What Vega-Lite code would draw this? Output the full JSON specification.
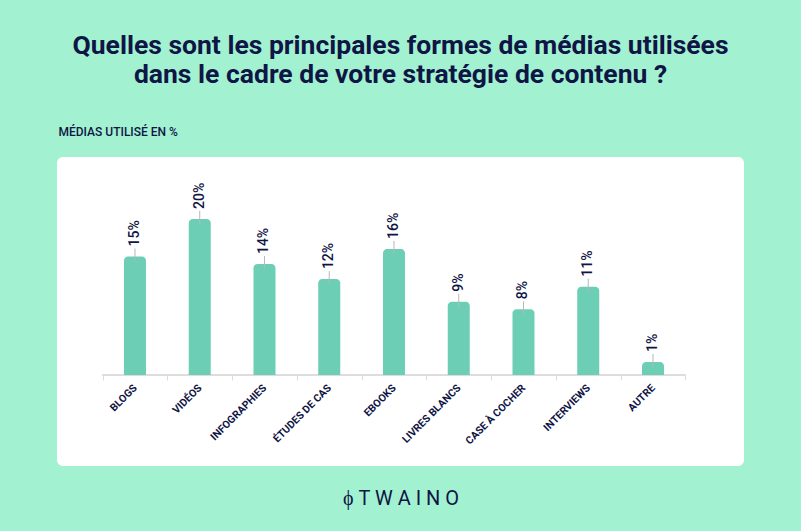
{
  "$schema": "https://vega.github.io/schema/vega-lite/v6.json",
  "width": 687,
  "height": 309,
  "autosize": {"type": "none"},
  "padding": {"left": 57, "top": 157, "right": 57, "bottom": 65},
  "background": "#a2f2d1",
  "title": {
    "text": ["Quelles sont les principales formes de médias utilisées", "dans le cadre de votre stratégie de contenu ?"],
    "anchor": "middle",
    "font": "Roboto",
    "fontSize": 26.5,
    "fontWeight": 700,
    "color": "#0f1545",
    "lineHeight": 29,
    "offset": 37
  },
  "config": {
    "view": {"fill": "white", "stroke": null, "cornerRadius": 6}
  },
  "data": {
    "values": [
      {"media": "BLOGS", "value": 15, "label": "15%"},
      {"media": "VIDÉOS", "value": 20, "label": "20%"},
      {"media": "INFOGRAPHIES", "value": 14, "label": "14%"},
      {"media": "ÉTUDES DE CAS", "value": 12, "label": "12%"},
      {"media": "EBOOKS", "value": 16, "label": "16%"},
      {"media": "LIVRES BLANCS", "value": 9, "label": "9%"},
      {"media": "CASE À COCHER", "value": 8, "label": "8%"},
      {"media": "INTERVIEWS", "value": 11, "label": "11%"},
      {"media": "AUTRE", "value": 1, "label": "1%"}
    ]
  },
  "encoding": {
    "x": {
      "field": "media",
      "type": "nominal",
      "sort": null,
      "scale": {
        "domain": ["BLOGS", "VIDÉOS", "INFOGRAPHIES", "ÉTUDES DE CAS", "EBOOKS", "LIVRES BLANCS", "CASE À COCHER", "INTERVIEWS", "AUTRE"],
        "paddingInner": 0,
        "paddingOuter": 0.805,
        "align": 0.4376
      },
      "axis": {
        "title": "ϕ T W A I N O",
        "titleFont": "Roboto",
        "titleFontSize": 20,
        "titleFontWeight": 400,
        "titleColor": "#0f1545",
        "titleX": 343.5,
        "titleY": 129,
        "titleBaseline": "alphabetic",
        "titleAlign": "center",
        "offset": -91,
        "domain": false,
        "grid": false,
        "ticks": true,
        "tickBand": "extent",
        "tickColor": "#dddddd",
        "tickSize": 5,
        "labelAngle": 315,
        "labelAlign": "right",
        "labelBaseline": "middle",
        "labelFont": "Roboto",
        "labelFontSize": 10.5,
        "labelFontWeight": 700,
        "labelColor": "#0f1545",
        "labelPadding": 6
      }
    },
    "y": {
      "field": "value",
      "type": "quantitative",
      "scale": {"domain": [-12.82, 28.22], "nice": false, "zero": false},
      "axis": {
        "title": "MÉDIAS UTILISÉ EN %",
        "titleAngle": 0,
        "titleAlign": "left",
        "titleBaseline": "alphabetic",
        "titleX": 1,
        "titleY": -22,
        "titleFont": "Roboto",
        "titleFontSize": 12,
        "titleFontWeight": 500,
        "titleColor": "#0f1545",
        "labels": false,
        "ticks": false,
        "domain": false,
        "grid": false
      }
    }
  },
  "layer": [
    {
      "mark": {"type": "rule", "color": "#dddddd", "strokeWidth": 1.5},
      "encoding": {
        "x": {"datum": "BLOGS", "type": "nominal", "bandPosition": 0},
        "x2": {"datum": "AUTRE", "bandPosition": 1},
        "y": {"datum": -0.73, "type": "quantitative"}
      }
    },
    {
      "mark": {"type": "bar", "width": 22, "color": "#6ccfb5", "cornerRadiusTopLeft": 4, "cornerRadiusTopRight": 4},
      "encoding": {
        "y2": {"datum": -0.73}
      }
    },
    {
      "mark": {"type": "rule", "color": "#b8b8b8", "strokeWidth": 1, "yOffset": 5, "y2Offset": -8},
      "encoding": {
        "y2": {"field": "value"}
      }
    },
    {
      "mark": {"type": "text", "angle": 270, "align": "left", "baseline": "middle", "yOffset": -10, "font": "Roboto", "fontSize": 14, "fontWeight": 500, "color": "#0f1545"},
      "encoding": {
        "text": {"field": "label"}
      }
    }
  ]
}
